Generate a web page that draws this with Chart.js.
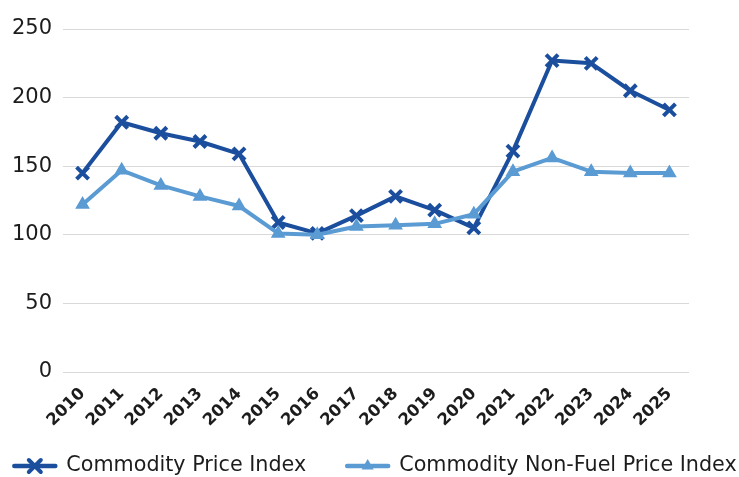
<!DOCTYPE html>
<html>
<head>
<meta charset="utf-8">
<script src="https://cdn.jsdelivr.net/npm/chart.js@4.4.1/dist/chart.umd.min.js"></script>
<style>
  html, body { margin: 0; padding: 0; background: #fff; }
  #wrap { width: 739px; height: 477px; position: relative; }
</style>
</head>
<body>
<div id="wrap"><canvas id="priceChart"></canvas></div>
<script>
// 年份（横轴）
const years = ['2010','2011','2012','2013','2014','2015','2016','2017','2018','2019','2020','2021','2022','2023','2024','2025'];
// 商品价格指数
const commodityIndex = [145, 182, 174, 168, 159, 109, 101, 114, 128, 118, 105, 161, 227, 225, 205, 191];
// 非燃料商品价格指数
const nonFuelIndex = [122, 147, 136, 128, 121, 101, 100, 106, 107, 108, 115, 146, 156, 146, 145, 145];
const seriesNames = ['Commodity Price Index', 'Commodity Non-Fuel Price Index'];
const yTicks = [0, 50, 100, 150, 200, 250];

const DARK = '#1B4F9E';
const LIGHT = '#5B9BD3';
const TEXT = '#1c1c1c';
const FONT = '"DejaVu Sans", sans-serif';

// 图例：线段 + 标记，手动绘制
const lineLegend = {
    id: 'lineLegend',
    afterDraw(chart) {
        const ctx = chart.ctx;
        const ds = chart.data.datasets;
        const sampleW = 45, gap = 9, itemGap = 39, fs = 20.7;
        const y = chart.height - 11;
        ctx.save();
        ctx.font = fs + 'px ' + FONT;
        const widths = ds.map(d => ctx.measureText(d.label).width);
        const total = widths.reduce((s, w) => s + w + sampleW + gap, 0) + itemGap * (ds.length - 1);
        let x = (chart.width - total) / 2 + 5;
        ds.forEach((d, i) => {
            const c = d.borderColor;
            ctx.strokeStyle = c;
            ctx.fillStyle = c;
            ctx.lineWidth = 4.5;
            ctx.lineCap = 'round';
            ctx.beginPath();
            ctx.moveTo(x + 2, y);
            ctx.lineTo(x + sampleW - 2, y);
            ctx.stroke();
            const cx = x + sampleW / 2;
            if (d.pointStyle === 'crossRot') {
                const r = 6;
                ctx.lineWidth = 4;
                ctx.beginPath();
                ctx.moveTo(cx - r, y - r); ctx.lineTo(cx + r, y + r);
                ctx.moveTo(cx + r, y - r); ctx.lineTo(cx - r, y + r);
                ctx.stroke();
            } else {
                const r = 7;
                ctx.beginPath();
                ctx.moveTo(cx, y - r);
                ctx.lineTo(cx + r * 0.866, y + r / 2);
                ctx.lineTo(cx - r * 0.866, y + r / 2);
                ctx.closePath();
                ctx.fill();
            }
            ctx.fillStyle = TEXT;
            ctx.textBaseline = 'middle';
            ctx.textAlign = 'left';
            ctx.fillText(d.label, x + sampleW + gap, y);
            x += sampleW + gap + widths[i] + itemGap;
        });
        ctx.restore();
    }
};

new Chart(document.getElementById('priceChart'), {
    type: 'line',
    data: {
        labels: years,
        datasets: [
            {
                label: seriesNames[0], data: commodityIndex, order: 1,
                borderColor: DARK, backgroundColor: DARK, borderWidth: 4,
                borderJoinStyle: 'round', borderCapStyle: 'round',
                pointStyle: 'crossRot', pointRadius: 8.5, pointBorderWidth: 4,
                pointBorderColor: DARK, pointBackgroundColor: DARK
            },
            {
                label: seriesNames[1], data: nonFuelIndex, order: 0,
                borderColor: LIGHT, backgroundColor: LIGHT, borderWidth: 4,
                borderJoinStyle: 'round', borderCapStyle: 'round',
                pointStyle: 'triangle', pointRadius: 7, pointBorderWidth: 1.5,
                pointBorderColor: LIGHT, pointBackgroundColor: LIGHT
            }
        ]
    },
    options: {
        responsive: true,
        maintainAspectRatio: false,
        animation: false,
        layout: { padding: { top: 29, right: 50, left: 0, bottom: 0 } },
        plugins: { legend: { display: false }, tooltip: { enabled: false } },
        scales: {
            x: {
                offset: true,
                grid: { display: false },
                border: { display: false },
                ticks: { color: TEXT, font: { family: FONT, size: 16.5, weight: 'bold' }, minRotation: 45, maxRotation: 45, padding: 4 },
                afterFit(scale) { scale.height = 105; }
            },
            y: {
                min: 0, max: 250,
                afterBuildTicks(scale) { scale.ticks = yTicks.map(v => ({ value: v })); },
                grid: { color: '#d9d9d9', lineWidth: 1, drawTicks: false },
                border: { display: false },
                ticks: { color: TEXT, font: { family: FONT, size: 21 }, padding: 11 },
                afterFit(scale) { scale.width = 63; }
            }
        }
    },
    plugins: [lineLegend]
});
</script>
</body>
</html>
